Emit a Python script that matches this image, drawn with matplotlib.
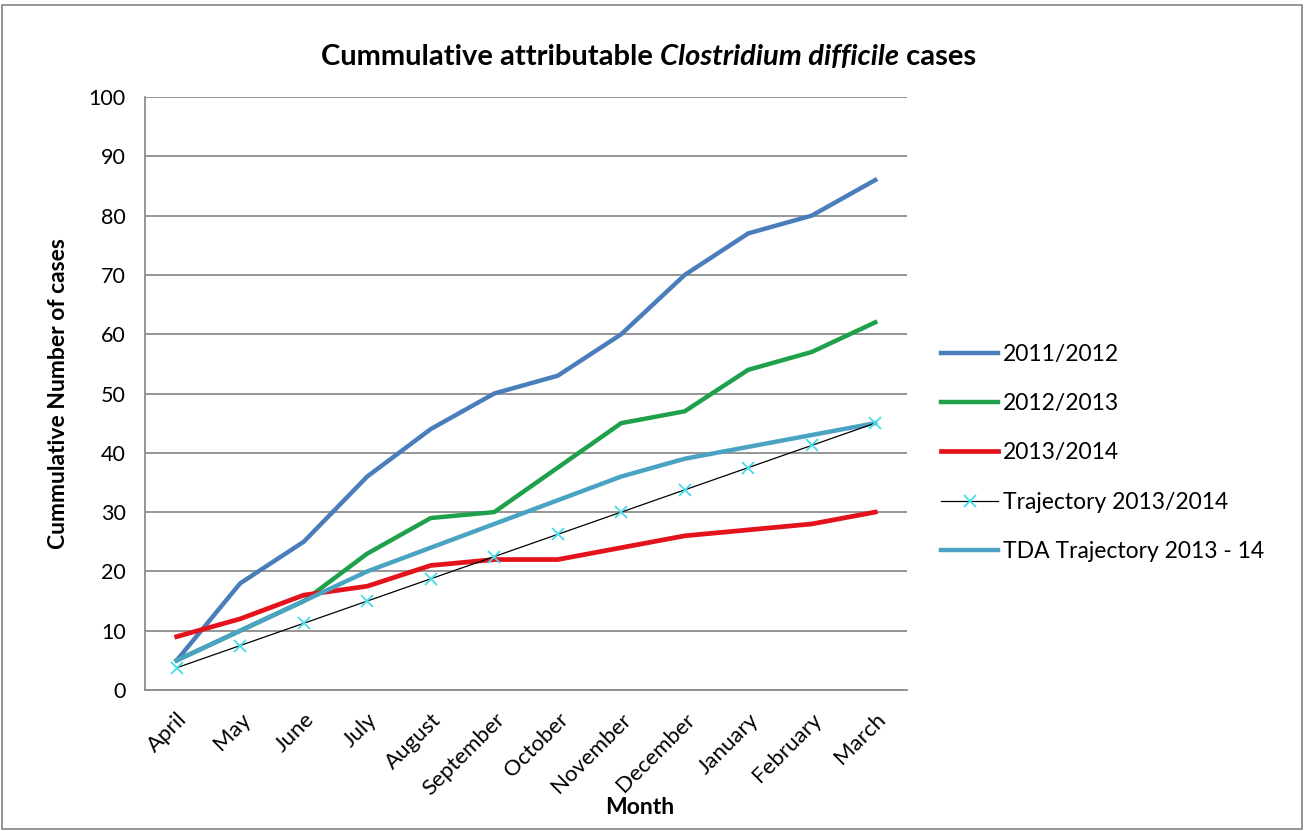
import matplotlib
matplotlib.use("Agg")
import matplotlib.pyplot as plt
from matplotlib.patches import Rectangle

plt.rcParams['font.family'] = ['Lato', 'DejaVu Sans']

months = ['April', 'May', 'June', 'July', 'August', 'September', 'October',
          'November', 'December', 'January', 'February', 'March']

cases_2011_12 = [5, 18, 25, 36, 44, 50, 53, 60, 70, 77, 80, 86]
cases_2012_13 = [5, 10, 15, 23, 29, 30, 37.5, 45, 47, 54, 57, 62]
cases_2013_14 = [9, 12, 16, 17.5, 21, 22, 22, 24, 26, 27, 28, 30]
trajectory_13_14 = [3.75, 7.5, 11.25, 15, 18.75, 22.5, 26.25, 30, 33.75, 37.5, 41.25, 45]
tda_trajectory = [5, 10, 15, 20, 24, 28, 32, 36, 39, 41, 43, 45]

col_blue = '#4a7ebb'
col_green = '#1ea14a'
col_red = '#e3121b'
col_teal = '#4aa3c2'
col_cyan = '#45dcea'

fig = plt.figure(figsize=(13.05, 8.31), dpi=100)
ax = fig.add_axes([145 / 1305, 1 - 690 / 831, 762 / 1305, 593 / 831])

x = list(range(len(months)))
ax.plot(x, cases_2011_12, color=col_blue, lw=3.2, label='2011/2012', zorder=3)
ax.plot(x, cases_2012_13, color=col_green, lw=3.2, label='2012/2013', zorder=3)
ax.plot(x, cases_2013_14, color=col_red, lw=3.4, label='2013/2014', zorder=3)
ax.plot(x, trajectory_13_14, color='black', lw=0.9, marker='x', ms=9,
        mec=col_cyan, mew=1.3, label='Trajectory 2013/2014', zorder=4)
ax.plot(x, tda_trajectory, color=col_teal, lw=3.2, label='TDA Trajectory 2013 - 14', zorder=3)

ax.set_xlim(-0.5, 11.5)
ax.set_ylim(0, 100)
ax.set_yticks(range(0, 101, 10))
ax.yaxis.grid(True, color='#8c8c8c', lw=1.3)
ax.set_axisbelow(True)
for s in ['top', 'right']:
    ax.spines[s].set_visible(False)
for s in ['left', 'bottom']:
    ax.spines[s].set_color('#8c8c8c')
    ax.spines[s].set_linewidth(1.3)
ax.tick_params(axis='y', length=0, labelsize=15.5, pad=14)
ax.tick_params(axis='x', length=0, labelsize=16, pad=14)
ax.set_xticks(x)
ax.set_xticklabels(months, rotation=45, ha='right', rotation_mode='anchor')

ax.set_ylabel('Cummulative Number of cases', fontsize=16.5, fontweight='bold', labelpad=14)
fig.text(640 / 1305, 1 - 808 / 831, 'Month', fontsize=16.5, fontweight='bold',
         ha='center', va='center')

# title with italic species name
fig.canvas.draw()
renderer = fig.canvas.get_renderer()
parts = [('Cummulative attributable ', 'normal'),
         ('Clostridium difficile', 'italic'),
         (' cases', 'normal')]
texts = []
for t, st in parts:
    texts.append(fig.text(0, 1 - 57 / 831, t, fontsize=21, fontweight='bold',
                          style=st, ha='left', va='center'))
widths = [tt.get_window_extent(renderer).width for tt in texts]
x0 = 649 - sum(widths) / 2
for tt, w in zip(texts, widths):
    tt.set_x(x0 / 1305)
    x0 += w

fig.legend(loc='upper left', bbox_to_anchor=(941 / 1305, 1 - 344 / 831),
           frameon=False, fontsize=16.5, handlelength=2.5, handletextpad=0.2,
           labelspacing=1.23, borderpad=0, borderaxespad=0)

fig.patches.append(Rectangle((2 / 1305, 2 / 831), 1300 / 1305, 824 / 831,
                             transform=fig.transFigure, fill=False,
                             edgecolor='#8c8c8c', lw=1.3))

fig.savefig('out.png', dpi=100)
